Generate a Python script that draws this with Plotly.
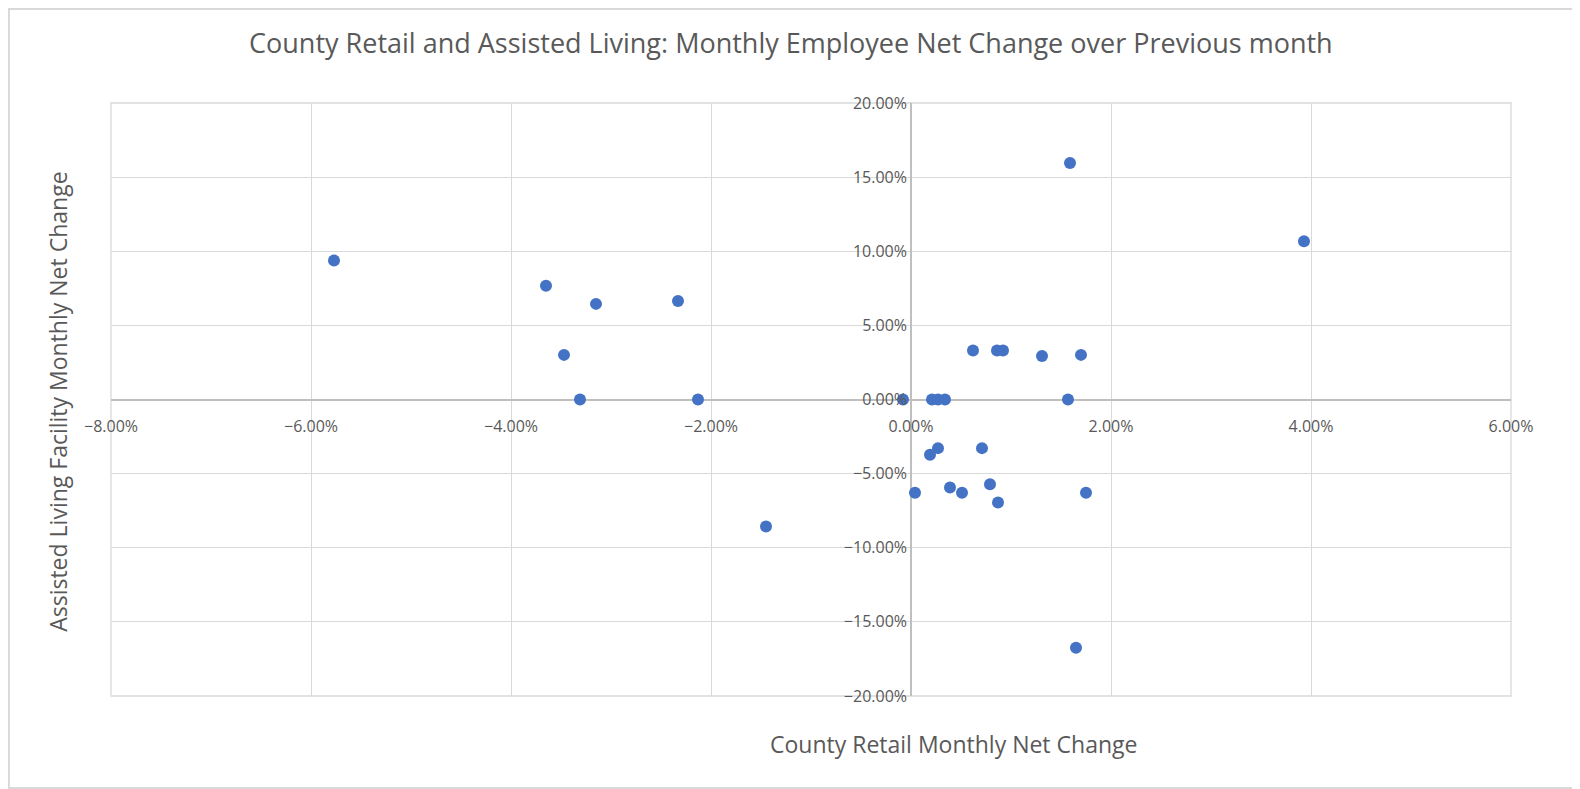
import plotly.graph_objects as go

# monthly net change, in percent
retail_change = [
    -5.77, -3.65, -3.15, -3.47, -3.31, -2.33, -2.13, -1.45,
    -0.08, 0.21, 0.27, 0.34, 0.62, 0.86, 0.92, 1.31, 1.70, 1.57,
    1.59, 3.93, 0.27, 0.19, 0.71, 0.04, 0.39, 0.51, 0.79, 0.87,
    1.75, 1.65,
]
assisted_change = [
    9.37, 7.67, 6.45, 3.01, 0.0, 6.65, 0.0, -8.56,
    0.0, 0.0, 0.0, 0.0, 3.30, 3.30, 3.30, 2.93, 3.01, 0.0,
    15.96, 10.67, -3.28, -3.73, -3.28, -6.29, -5.93, -6.29, -5.71, -6.94,
    -6.29, -16.74,
]
x_ticks = [-8, -6, -4, -2, 0, 2, 4, 6]
y_ticks = [-20, -15, -10, -5, 0, 5, 10, 15, 20]

title = "County Retail and Assisted Living: Monthly Employee Net Change over Previous month"
x_title = "County Retail Monthly Net Change"
y_title = "Assisted Living Facility Monthly Net Change"

text_color = "#595959"
grid_color = "#d9d9d9"
font_family = "Open Sans"

fig = go.Figure()
fig.add_trace(
    go.Scatter(
        x=[v / 100 for v in retail_change],
        y=[v / 100 for v in assisted_change],
        mode="markers",
        marker=dict(color="#4472c4", size=12, line=dict(width=0)),
        showlegend=False,
    )
)

# page body adds an 8px margin, so the figure is a bit smaller than the window
fig.update_layout(
    width=1572,
    height=781,
    margin=dict(l=103, r=69, t=95, b=93),
    paper_bgcolor="white",
    plot_bgcolor="white",
    font=dict(family=font_family, color=text_color),
    title=dict(
        text=title,
        x=0.498,
        y=0.9545,
        xanchor="center",
        yanchor="middle",
        font=dict(size=27, color=text_color, family=font_family),
    ),
)

fig.update_xaxes(
    range=[-0.08, 0.06],
    tickvals=[v / 100 for v in x_ticks],
    tickformat=".2%",
    showgrid=True,
    gridcolor=grid_color,
    gridwidth=1.3,
    zeroline=True,
    zerolinecolor="#bfbfbf",
    zerolinewidth=1.6,
    anchor="free",
    position=0.5,
    side="bottom",
    ticks="",
    ticklabelstandoff=15,
    tickfont=dict(size=16, color=text_color),
    fixedrange=True,
)
fig.update_yaxes(
    range=[-0.20, 0.20],
    tickvals=[v / 100 for v in y_ticks],
    tickformat=".2%",
    showgrid=True,
    gridcolor=grid_color,
    gridwidth=1.3,
    zeroline=True,
    zerolinecolor="#bfbfbf",
    zerolinewidth=1.6,
    anchor="free",
    position=8 / 14,
    side="left",
    ticks="",
    ticklabelstandoff=4,
    tickfont=dict(size=16, color=text_color),
    fixedrange=True,
)

# plot area edge and chart border
fig.add_shape(
    type="rect", xref="paper", yref="paper", x0=0, x1=1, y0=0, y1=1,
    line=dict(color=grid_color, width=1.3), layer="below",
)
fig.add_shape(
    type="rect", xref="paper", yref="paper",
    x0=-0.0729, x1=1.0486, y0=-0.1551, y1=1.1585,
    line=dict(color=grid_color, width=2),
)

fig.add_annotation(
    text=x_title, xref="paper", yref="paper", x=0.602, y=-0.081,
    xanchor="center", yanchor="middle", showarrow=False,
    font=dict(size=23, color=text_color, family=font_family),
)
fig.add_annotation(
    text=y_title, xref="paper", yref="paper", x=-0.0379, y=0.496,
    xanchor="center", yanchor="middle", showarrow=False, textangle=-90,
    font=dict(size=23, color=text_color, family=font_family),
)

fig.write_html("out.html")
